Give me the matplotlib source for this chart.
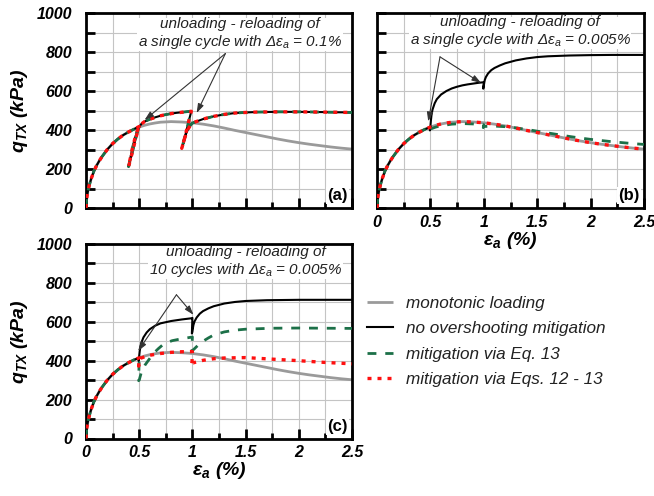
import matplotlib
matplotlib.use("Agg")
import matplotlib.pyplot as plt
from matplotlib.ticker import MultipleLocator

plt.rcParams['font.family'] = ['Liberation Sans', 'DejaVu Sans']

# ---------------- data ----------------
eps_mono = [0, 0.005, 0.01, 0.02, 0.03, 0.05, 0.075, 0.1, 0.125, 0.15, 0.2, 0.25, 0.3, 0.35, 0.4,
            0.45, 0.5, 0.55, 0.6, 0.65, 0.7, 0.8, 0.9, 1.0, 1.1, 1.2, 1.3, 1.4, 1.5, 1.6, 1.7,
            1.8, 1.9, 2.0, 2.1, 2.2, 2.3, 2.4, 2.5]
q_mono = [0, 40, 62, 92, 115, 152, 190, 218, 242, 263, 300, 330, 354, 374, 390,
          404, 415, 424, 431, 436, 440, 443, 441, 437, 430, 421, 410, 398, 387, 376, 365,
          354, 344, 335, 327, 320, 313, 307, 302]

# panel (a): single cycle, d_eps = 0.1 % (all three model variants coincide)
eps_a = [0, 0.005, 0.01, 0.02, 0.03, 0.05, 0.075, 0.1, 0.125, 0.15, 0.2, 0.25, 0.3, 0.35, 0.4,
         0.45, 0.5, 0.48, 0.46, 0.44, 0.42, 0.40, 0.42, 0.44, 0.46, 0.48, 0.5, 0.52, 0.55,
         0.6, 0.65, 0.7, 0.75, 0.8, 0.85, 0.9, 0.95, 0.99, 0.97, 0.95, 0.93, 0.91, 0.90,
         0.92, 0.94, 0.96, 0.98, 1.0, 1.03, 1.06, 1.1, 1.15, 1.2, 1.3, 1.4, 1.5, 1.6, 1.8,
         2.0, 2.2, 2.5]
q_a = [0, 40, 62, 92, 115, 152, 190, 218, 242, 263, 300, 330, 354, 374, 390,
       404, 418, 382, 340, 295, 253, 212, 265, 315, 358, 392, 416, 431, 443,
       455, 465, 473, 479, 484, 488, 491, 494, 496, 455, 410, 365, 325, 306,
       345, 380, 405, 423, 435, 442, 448, 456, 463, 470, 480, 487, 490, 492, 493,
       493, 492, 490]

# panel (b): single cycle, d_eps = 0.005 %
eps_b_none = [0, 0.005, 0.01, 0.02, 0.03, 0.05, 0.075, 0.1, 0.125, 0.15, 0.2, 0.25, 0.3, 0.35,
              0.4, 0.45, 0.5, 0.495, 0.5, 0.505, 0.51, 0.52, 0.54, 0.56, 0.6, 0.65, 0.7, 0.75,
              0.8, 0.85, 0.9, 0.95, 1.0, 0.995, 1.0, 1.005, 1.01, 1.02, 1.04, 1.07, 1.1, 1.15,
              1.2, 1.3, 1.4, 1.5, 1.6, 1.8, 2.0, 2.2, 2.5]
q_b_none = [0, 40, 62, 92, 115, 152, 190, 218, 242, 263, 300, 330, 354, 374,
            390, 404, 415, 398, 418, 450, 475, 505, 537, 558, 582, 600, 613, 622,
            629, 634, 638, 642, 645, 612, 628, 645, 658, 672, 690, 707, 718, 731,
            742, 757, 767, 774, 778, 782, 784, 785, 785]
eps_b_eq13 = [0, 0.005, 0.01, 0.02, 0.03, 0.05, 0.075, 0.1, 0.125, 0.15, 0.2, 0.25, 0.3, 0.35,
              0.4, 0.45, 0.5, 0.495, 0.5, 0.55, 0.6, 0.7, 0.8, 0.9, 1.0, 0.995, 1.0, 1.1, 1.2,
              1.3, 1.4, 1.5, 1.6, 1.7, 1.8, 1.9, 2.0, 2.1, 2.2, 2.3, 2.4, 2.5]
q_b_eq13 = [0, 40, 62, 92, 115, 152, 190, 218, 242, 263, 300, 330, 354, 374,
            390, 404, 412, 398, 405, 415, 422, 430, 433, 431, 427, 412, 418, 420, 417,
            411, 403, 394, 385, 376, 367, 359, 352, 346, 340, 335, 330, 326]
eps_b_eq1213 = eps_mono
q_b_eq1213 = q_mono

# panel (c): 10 cycles, d_eps = 0.005 %
eps_c_none = [0, 0.005, 0.01, 0.02, 0.03, 0.05, 0.075, 0.1, 0.125, 0.15, 0.2, 0.25, 0.3, 0.35,
              0.4, 0.45, 0.5, 0.495, 0.5, 0.505, 0.51, 0.52, 0.54, 0.57, 0.6, 0.65, 0.7, 0.8,
              0.9, 0.99, 1.0, 0.995, 1.0, 1.005, 1.01, 1.02, 1.04, 1.07, 1.1, 1.15, 1.2, 1.3,
              1.4, 1.5, 1.7, 2.0, 2.5]
q_c_none = [0, 40, 62, 92, 115, 152, 190, 218, 242, 263, 300, 330, 354, 374,
            390, 404, 415, 398, 425, 450, 468, 492, 520, 545, 562, 580, 592, 604,
            612, 618, 620, 540, 548, 568, 584, 602, 622, 642, 655, 669, 680, 694,
            702, 707, 711, 713, 713]
eps_c_eq13 = [0, 0.005, 0.01, 0.02, 0.03, 0.05, 0.075, 0.1, 0.125, 0.15, 0.2, 0.25, 0.3, 0.35,
              0.4, 0.45, 0.5, 0.495, 0.5, 0.52, 0.555, 0.6, 0.635, 0.68, 0.72, 0.76, 0.81, 0.9,
              0.98, 1.0, 0.995, 1.0, 1.02, 1.05, 1.1, 1.15, 1.2, 1.3, 1.4, 1.5, 1.75, 2.0,
              2.25, 2.5]
q_c_eq13 = [0, 40, 62, 92, 115, 152, 190, 218, 242, 263, 300, 330, 354, 374,
            390, 404, 415, 297, 300, 340, 378, 412, 438, 462, 481, 493, 503, 513,
            520, 522, 450, 452, 462, 478, 500, 517, 532, 548, 557, 562, 567, 568,
            567, 566]
eps_c_eq1213 = [0, 0.005, 0.01, 0.02, 0.03, 0.05, 0.075, 0.1, 0.125, 0.15, 0.2, 0.25, 0.3,
                0.35, 0.4, 0.45, 0.5, 0.495, 0.5, 0.55, 0.6, 0.7, 0.8, 0.9, 1.0, 0.995, 1.0,
                1.05, 1.1, 1.2, 1.3, 1.5, 1.75, 2.0, 2.25, 2.5]
q_c_eq1213 = [0, 40, 62, 92, 115, 152, 190, 218, 242, 263, 300, 330, 354,
              374, 390, 404, 415, 372, 410, 420, 428, 437, 443, 446, 447, 372, 388,
              395, 402, 410, 414, 416, 408, 400, 391, 384]

x_ticks = [0, 0.5, 1, 1.5, 2, 2.5]
x_ticklabels = ['0', '0.5', '1', '1.5', '2', '2.5']
y_ticks = [0, 200, 400, 600, 800, 1000]
y_ticklabels = ['0', '200', '400', '600', '800', '1000']

legend_labels = ['monotonic loading', 'no overshooting mitigation',
                 'mitigation via Eq. 13', 'mitigation via Eqs. 12 - 13']

# ---------------- styles ----------------
C_MONO = '#9a9a9a'
C_NONE = '#000000'
C_EQ13 = '#1c7048'
C_EQ1213 = '#ff1010'
st_mono = dict(color=C_MONO, lw=2.0, solid_capstyle='butt')
st_none = dict(color=C_NONE, lw=1.5)
st_eq13 = dict(color=C_EQ13, lw=2.0, linestyle=(0, (3.2, 3.2)))
st_eq1213 = dict(color=C_EQ1213, lw=2.4, linestyle=(0, (1.2, 1.8)))

tick_font = dict(fontsize=11.5, fontweight='bold', fontstyle='italic')
label_font = dict(fontsize=14, fontweight='bold', fontstyle='italic')
ann_font = dict(fontsize=11, fontstyle='italic', color='#222222')
arrow_kw = dict(arrowstyle='-|>,head_length=0.55,head_width=0.18', color='#333333', lw=0.8,
                shrinkA=0, shrinkB=0)

W, H = 654, 496
fig = plt.figure(figsize=(W / 100, H / 100), dpi=100)


def box(l, t, r, b):
    return [l / W, 1 - b / H, (r - l) / W, (b - t) / H]


ax_a = fig.add_axes(box(86, 13, 352, 208))
ax_b = fig.add_axes(box(377, 13, 644, 208))
ax_c = fig.add_axes(box(86, 244, 352, 438.5))


def style(ax, xlab, ylab, tag):
    ax.set_xlim(0, 2.5)
    ax.set_ylim(0, 1000)
    ax.xaxis.set_major_locator(MultipleLocator(0.5))
    ax.xaxis.set_minor_locator(MultipleLocator(0.25))
    ax.yaxis.set_major_locator(MultipleLocator(200))
    ax.yaxis.set_minor_locator(MultipleLocator(100))
    ax.grid(which='both', color='#c4c4c4', lw=0.8, zorder=0)
    ax.set_axisbelow(True)
    for s in ax.spines.values():
        s.set_linewidth(2.0)
    ax.tick_params(axis='x', which='major', direction='in', length=7, width=2, pad=5)
    ax.tick_params(axis='x', which='minor', direction='in', length=4.5, width=2)
    ax.tick_params(axis='y', which='both', direction='in', length=6.5, width=2, pad=10)
    if xlab:
        ax.set_xticks(x_ticks)
        ax.set_xticklabels(x_ticklabels, **tick_font)
        ax.set_xlabel('ε$\\mathregular{_a}$ (%)', labelpad=0, **label_font)
    else:
        ax.set_xticklabels([])
    if ylab:
        ax.set_yticks(y_ticks)
        ax.set_yticklabels(y_ticklabels, **tick_font)
        ax.set_ylabel('q$\\mathregular{_{TX}}$ (kPa)', labelpad=5, **label_font)
    else:
        ax.set_yticklabels([])
    ax.text(0.985, 0.025, tag, transform=ax.transAxes, ha='right', va='bottom',
            fontsize=12, fontweight='bold', zorder=6,
            bbox=dict(facecolor='white', edgecolor='none', pad=1.0))


style(ax_a, False, True, '(a)')
style(ax_b, True, False, '(b)')
style(ax_c, True, True, '(c)')

# panel (a)
ax_a.plot(eps_mono, q_mono, **st_mono, zorder=2)
ax_a.plot(eps_a, q_a, **st_none, zorder=3)
ax_a.plot(eps_a, q_a, **st_eq13, zorder=4)
ax_a.plot(eps_a, q_a, **st_eq1213, zorder=5)
ax_a.text(1.45, 893, 'unloading - reloading of\na single cycle with Δε$\\mathregular{_a}$ = 0.1%',
          ha='center', va='center', linespacing=1.1, zorder=6,
          bbox=dict(facecolor='white', edgecolor='none', pad=0.5), **ann_font)
for tgt in [(0.55, 451), (1.04, 487)]:
    ax_a.annotate('', xy=tgt, xytext=(1.31, 792), arrowprops=arrow_kw, zorder=7)

# panel (b)
ax_b.plot(eps_mono, q_mono, **st_mono, zorder=2)
ax_b.plot(eps_b_none, q_b_none, **st_none, zorder=3)
ax_b.plot(eps_b_eq13, q_b_eq13, **st_eq13, zorder=4)
ax_b.plot(eps_b_eq1213, q_b_eq1213, **st_eq1213, zorder=5)
ax_b.text(1.34, 903, 'unloading - reloading of\na single cycle with Δε$\\mathregular{_a}$ = 0.005%',
          ha='center', va='center', linespacing=1.1, zorder=6,
          bbox=dict(facecolor='white', edgecolor='none', pad=0.5), **ann_font)
for tgt in [(0.48, 444), (0.975, 641)]:
    ax_b.annotate('', xy=tgt, xytext=(0.59, 775), arrowprops=arrow_kw, zorder=7)

# panel (c)
l_mono, = ax_c.plot(eps_mono, q_mono, **st_mono, zorder=2)
l_none, = ax_c.plot(eps_c_none, q_c_none, **st_none, zorder=3)
l_eq13, = ax_c.plot(eps_c_eq13, q_c_eq13, **st_eq13, zorder=4)
l_eq1213, = ax_c.plot(eps_c_eq1213, q_c_eq1213, **st_eq1213, zorder=5)
ax_c.text(1.50, 908, 'unloading - reloading of\n10 cycles with Δε$\\mathregular{_a}$ = 0.005%',
          ha='center', va='center', linespacing=1.1, zorder=6,
          bbox=dict(facecolor='white', edgecolor='none', pad=0.5), **ann_font)
for tgt in [(0.49, 450), (1.01, 636)]:
    ax_c.annotate('', xy=tgt, xytext=(0.85, 739), arrowprops=arrow_kw, zorder=7)

leg = fig.legend([l_mono, l_none, l_eq13, l_eq1213], legend_labels,
                 loc='upper left', bbox_to_anchor=(367 / W, 1 - 296 / H),
                 frameon=False, borderpad=0, borderaxespad=0,
                 handlelength=1.55, handletextpad=0.75, labelspacing=0.6,
                 prop=dict(size=12.3, style='italic'))
for t in leg.get_texts():
    t.set_color('#222222')

fig.savefig('out.png', dpi=100)
